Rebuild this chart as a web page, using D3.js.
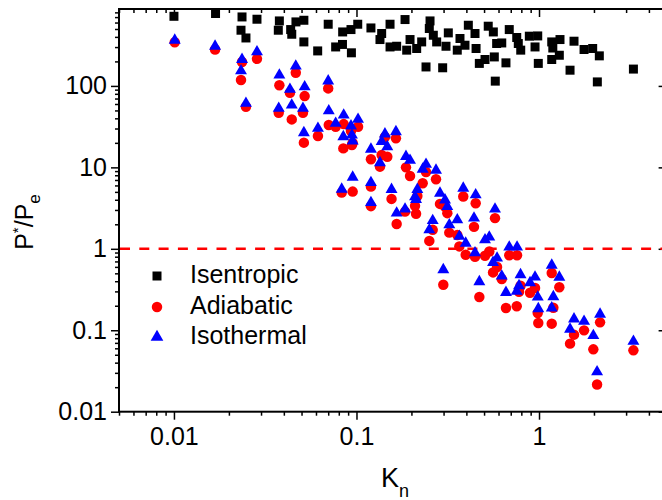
<!DOCTYPE html>
<html>
<head>
<meta charset="utf-8">
<script src="https://cdnjs.cloudflare.com/ajax/libs/d3/7.8.5/d3.min.js"></script>
<style>
  body { margin: 0; background: #fff; }
  #chart { width: 662px; height: 500px; overflow: hidden; }
  text { font-family: "Liberation Sans", Arial, sans-serif; fill: #000; }
</style>
</head>
<body>
<div id="chart"></div>
<script>
// Isentropic (black squares)
const isentropicKn = [
  0.0100, 0.0169, 0.0236, 0.0233, 0.0248, 0.0285, 0.0378, 0.0373, 0.0436, 0.0442,
  0.0466, 0.0515, 0.0515, 0.0613, 0.070, 0.0769, 0.084, 0.0838, 0.0933, 0.0938,
  0.1016, 0.120, 0.1374, 0.1345, 0.1527, 0.1527, 0.166, 0.1845, 0.1884, 0.1965,
  0.2137, 0.2276, 0.2404, 0.2529, 0.2506, 0.2636, 0.275, 0.2966, 0.3093, 0.3185,
  0.3566, 0.369, 0.393, 0.41, 0.446, 0.452, 0.471, 0.506, 0.527, 0.562,
  0.569, 0.586, 0.625, 0.576, 0.659, 0.687, 0.755, 0.770, 0.794, 0.885,
  0.984, 0.951, 0.991, 1.174, 1.19, 1.303, 1.174, 1.292, 1.479, 1.555,
  1.765, 1.968, 2.14, 2.087, 3.29
];
const isentropicP = [
  716, 775, 703, 483, 388, 659, 628, 483, 492, 431,
  611, 640, 347, 269, 572, 301, 460, 323, 492, 255,
  572, 515, 440, 371, 572, 301, 307, 653, 275, 371,
  288, 347, 171, 628, 507, 419, 347, 167, 307, 448,
  275, 382, 316, 556, 440, 288, 189, 211, 541, 460,
  227, 332, 337, 114.5, 192, 492, 393, 332, 275, 408,
  411, 301, 189, 347, 292, 371, 211, 238, 156, 354,
  280, 288, 234, 112, 161
];

// Adiabatic (red circles) and Isothermal (blue triangles) share the same Kn
const pairKn = [
  0.0101, 0.0168, 0.0236, 0.0285, 0.0233, 0.0248, 0.0378, 0.0465, 0.0432, 0.052,
  0.0375, 0.0442, 0.0509, 0.070, 0.0515, 0.0615, 0.0705, 0.0769, 0.0851, 0.102,
  0.0847, 0.0933, 0.0944, 0.0953, 0.120, 0.1345, 0.1432, 0.1374, 0.1475, 0.1645,
  0.0953, 0.083, 0.120, 0.1556, 0.120, 0.166, 0.1845, 0.1867, 0.1965, 0.2155,
  0.2093, 0.212, 0.2305, 0.2404, 0.2727, 0.2506, 0.2616, 0.2868, 0.3055, 0.3145,
  0.3225, 0.3566, 0.366, 0.3846, 0.3966, 0.446, 0.4498, 0.4404, 0.506, 0.534,
  0.56, 0.589, 0.574, 0.299, 0.471, 0.625, 0.687, 0.758, 0.659, 0.755,
  0.792, 0.777, 0.893, 0.951, 0.984, 0.991, 1.174, 1.198, 1.174, 1.292,
  1.555, 1.479, 1.765, 1.984, 2.16, 2.08, 3.29
];
const adiabaticP = [
  344, 280, 197, 215, 118, 55.5, 102, 145, 82.3, 75,
  46.8, 38.8, 46.8, 93.2, 20.1, 24.3, 33.1, 31.5, 34, 31.5,
  17.1, 27.9, 18.8, 19.9, 12.6, 10.2, 23.6, 14.2, 13.5, 22.7,
  5.04, 4.9, 5.8, 4.1, 3.34, 2.02, 2.86, 10.0, 7.85, 4.46,
  3.37, 2.69, 6.38, 8.78, 7.15, 1.25, 1.71, 3.56, 3.3, 2.74,
  1.58, 1.48, 1.07, 4.38, 0.844, 0.798, 3.63, 1.86, 0.821, 0.927,
  0.513, 0.597, 2.38, 0.362, 0.256, 0.425, 0.832, 0.832, 0.188, 0.197,
  0.352, 0.297, 0.289, 0.33, 0.163, 0.123, 0.504, 0.189, 0.1205, 0.338,
  0.0883, 0.0685, 0.0997, 0.0583, 0.125, 0.0216, 0.0567
];
const isothermalP = [
  364, 307, 211, 262, 153, 61, 136, 175, 90.6, 97.5,
  53, 58.2, 53, 115, 26.6, 30.1, 49.5, 34.7, 43.9, 38.8,
  23.8, 32.2, 24.9, 21.1, 16.7, 11.4, 25.7, 20.7, 17.9, 27.4,
  7.57, 5.39, 6.49, 5.36, 3.69, 2.74, 3.07, 13.6, 12.2, 5.36,
  4.34, 4.04, 9.48, 10.9, 9.21, 1.71, 2.22, 4.82, 3.98, 3.3,
  1.97, 2.27, 1.42, 5.54, 1.17, 0.893, 4.59, 2.38, 1.29, 1.39,
  0.679, 0.769, 3.07, 0.553, 0.394, 0.463, 1.05, 1.05, 0.291, 0.3,
  0.48, 0.352, 0.383, 0.45, 0.255, 0.184, 0.628, 0.258, 0.188, 0.448,
  0.1376, 0.1031, 0.1285, 0.0859, 0.1574, 0.0308, 0.0731
];

const xTicks = [0.01, 0.1, 1];
const xTickLabels = ["0.01", "0.1", "1"];
const yTicks = [0.01, 0.1, 1, 10, 100];
const yTickLabels = ["0.01", "0.1", "1", "10", "100"];
const legendNames = ["Isentropic", "Adiabatic", "Isothermal"];

var width = 662, height = 500;
var margin = {top: 9, left: 119};
var plotRight = 666.6, plotBottom = 411.7;

const svg = d3.select("#chart")
    .append("svg")
    .attr("width", width)
    .attr("height", height);

const x = d3.scaleLog().domain([0.005, 5]).range([margin.left, plotRight]);
const y = d3.scaleLog().domain([0.01, 880]).range([plotBottom, margin.top]);

// minor ticks: 2..9 in every decade inside the domain
function minorTicks(scale) {
    const [lo, hi] = scale.domain();
    const out = [];
    for (let e = -4; e <= 3; e++) {
        for (let m = 2; m <= 9; m++) {
            const v = m * Math.pow(10, e);
            if (v >= lo && v <= hi) out.push(v);
        }
    }
    return out;
}

function cleanAxis(g) {
    g.select(".domain").remove();
    g.selectAll(".tick line").attr("stroke", "#000").attr("stroke-width", 1.5);
    g.attr("font-family", null).attr("font-size", null);
    g.selectAll("text").style("font-size", "25px");
}

// bottom axis (ticks out)
svg.append("g")
    .attr("transform", "translate(0," + plotBottom + ")")
    .call(d3.axisBottom(x).tickValues(minorTicks(x)).tickSize(4).tickFormat(""))
    .call(cleanAxis);
svg.append("g")
    .attr("transform", "translate(0," + plotBottom + ")")
    .call(d3.axisBottom(x).tickValues(xTicks).tickSize(8).tickPadding(8)
        .tickFormat((d, i) => xTickLabels[i]))
    .call(cleanAxis);

// top axis (ticks in)
svg.append("g")
    .attr("transform", "translate(0," + margin.top + ")")
    .call(d3.axisBottom(x).tickValues(minorTicks(x)).tickSize(4).tickFormat(""))
    .call(cleanAxis);
svg.append("g")
    .attr("transform", "translate(0," + margin.top + ")")
    .call(d3.axisBottom(x).tickValues(xTicks).tickSize(8).tickFormat(""))
    .call(cleanAxis);

// left axis (ticks out)
svg.append("g")
    .attr("transform", "translate(" + margin.left + ",0)")
    .call(d3.axisLeft(y).tickValues(minorTicks(y)).tickSize(4).tickFormat(""))
    .call(cleanAxis);
svg.append("g")
    .attr("transform", "translate(" + margin.left + ",0)")
    .call(d3.axisLeft(y).tickValues(yTicks).tickSize(8).tickPadding(4)
        .tickFormat((d, i) => yTickLabels[i]))
    .call(cleanAxis);

// right axis (ticks in)
svg.append("g")
    .attr("transform", "translate(" + plotRight + ",0)")
    .call(d3.axisLeft(y).tickValues(minorTicks(y)).tickSize(4).tickFormat(""))
    .call(cleanAxis);
svg.append("g")
    .attr("transform", "translate(" + plotRight + ",0)")
    .call(d3.axisLeft(y).tickValues(yTicks).tickSize(8).tickFormat(""))
    .call(cleanAxis);

// frame
svg.append("rect")
    .attr("x", margin.left)
    .attr("y", margin.top)
    .attr("width", plotRight - margin.left)
    .attr("height", plotBottom - margin.top)
    .attr("fill", "none")
    .attr("stroke", "#000")
    .attr("stroke-width", 2);

// reference line at P*/Pe = 1
svg.append("line")
    .attr("x1", margin.left + 1)
    .attr("x2", plotRight)
    .attr("y1", y(1))
    .attr("y2", y(1))
    .attr("stroke", "#ff0000")
    .attr("stroke-width", 2.5)
    .attr("stroke-dasharray", "10,9.3");

const squareSym = d3.symbol().type(d3.symbolSquare).size(81);
const circleSym = d3.symbol().type(d3.symbolCircle).size(86);
const triSym = d3.symbol().type(d3.symbolTriangle).size(62);

svg.append("g").selectAll("path")
    .data(isentropicKn)
    .enter()
    .append("path")
    .attr("d", squareSym)
    .attr("transform", (d, i) => "translate(" + x(d) + "," + y(isentropicP[i]) + ")")
    .attr("fill", "#000");

svg.append("g").selectAll("path")
    .data(pairKn)
    .enter()
    .append("path")
    .attr("d", circleSym)
    .attr("transform", (d, i) => "translate(" + x(d) + "," + y(adiabaticP[i]) + ")")
    .attr("fill", "#ff0000");

svg.append("g").selectAll("path")
    .data(pairKn)
    .enter()
    .append("path")
    .attr("d", triSym)
    .attr("transform", (d, i) => "translate(" + x(d) + "," + y(isothermalP[i]) + ")")
    .attr("fill", "#0000ff");

// legend
const legendSyms = [
    {sym: squareSym, color: "#000", cy: 276},
    {sym: circleSym, color: "#ff0000", cy: 307},
    {sym: d3.symbol().type(d3.symbolTriangle).size(70), color: "#0000ff", cy: 337}
];
legendNames.forEach((name, i) => {
    svg.append("path")
        .attr("d", legendSyms[i].sym)
        .attr("transform", "translate(157," + legendSyms[i].cy + ")")
        .attr("fill", legendSyms[i].color);
    svg.append("text")
        .attr("x", 190)
        .attr("y", legendSyms[i].cy + 7)
        .style("font-size", "25px")
        .text(name);
});

// axis titles
const xt = svg.append("text")
    .attr("x", 381)
    .attr("y", 487)
    .style("font-size", "27px")
    .text("K");
xt.append("tspan").attr("dy", 10).style("font-size", "18px").text("n");

const yt = svg.append("text")
    .attr("transform", "translate(33,222) rotate(-90)")
    .attr("text-anchor", "middle")
    .style("font-size", "25px")
    .text("P");
yt.append("tspan").attr("dy", -10).style("font-size", "15px").text("*");
yt.append("tspan").attr("dy", 10).text("/P");
yt.append("tspan").attr("dy", 7).style("font-size", "17px").text("e");
</script>
</body>
</html>
